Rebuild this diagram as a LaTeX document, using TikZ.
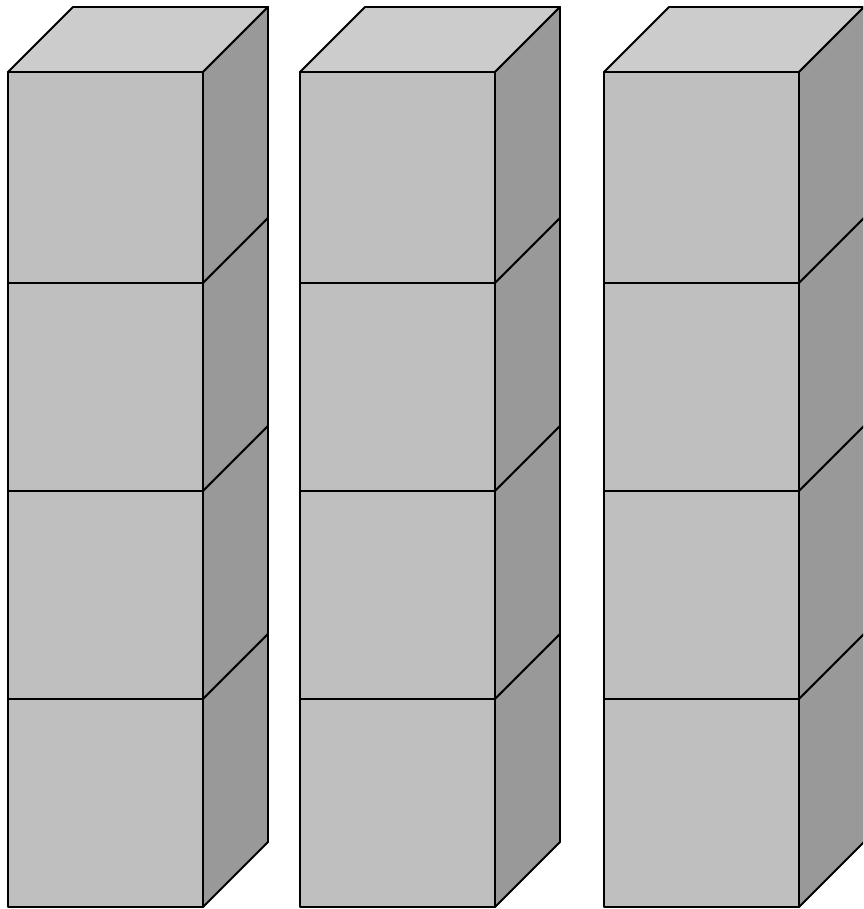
\documentclass[tikz,border=0pt]{standalone}
\begin{document}
\begin{tikzpicture}[line join = round, line cap = round,x=.02cm,y=-.02cm]
            \definecolor{topgray}{gray}{0.8}
            \definecolor{frontgray}{gray}{0.75}
            \definecolor{sidegray}{gray}{0.6}
            \tikzset{edge/.style={draw=black,line width=.038cm}}
            \tikzset{block/.pic={
                    \def\Fr{ (0,0)--(195,0)--(195,#1)--(0,#1)--cycle; }
                    \fill[frontgray] \Fr;
                    \draw[edge]\Fr;
                    \def\Si{ (195,0)--(260,-65)--(260,#1-65)--(195,#1)--cycle; }
                    \fill[sidegray] \Si;
                    \draw[edge]\Si;
            }}
            \tikzset{lid/.pic={
                    \def\Tp{ (0,0)--(65,-65)--(260,-65)--(195,0)--cycle; }
                    \fill[topgray] \Tp;
                    \draw[edge]\Tp;
            }}
            \useasboundingbox (0,0) rectangle (863,909);
            \clip (0,0) rectangle (863,909);
            \foreach \xo in {8,300,604}{
                    \path (\xo,72)pic{lid};
                    \path (\xo,72)pic{block=211};
                    \path (\xo,283)pic{block=208};
                    \path (\xo,491)pic{block=208};
                    \path (\xo,699)pic{block=208};
            }
        \end{tikzpicture}
\end{document}
